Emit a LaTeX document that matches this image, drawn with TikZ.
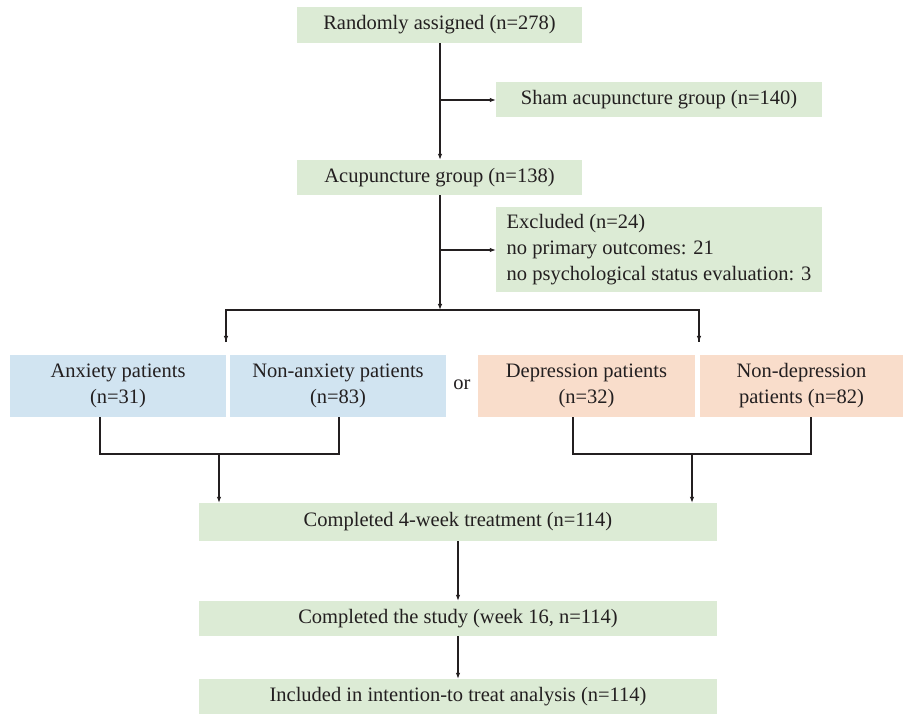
\documentclass[tikz,border=0pt]{standalone}
\usepackage{fontspec}
\setmainfont{Liberation Serif}
\usetikzlibrary{arrows.meta}
\definecolor{boxgreen}{HTML}{DCEBD5}
\definecolor{boxblue}{HTML}{D1E4F1}
\definecolor{boxpeach}{HTML}{F9DDCB}
\definecolor{ink}{HTML}{231F20}
\tikzset{
  fbox/.style={fill=#1, draw=none, inner sep=0pt, text=ink, align=center,
    font=\fontsize{20.5}{26}\selectfont},
  conn/.style={draw=ink, line width=1.1pt},
  arr/.style={conn, -{Latex[length=6pt,width=4.5pt]}}
}
\begin{document}
\begin{tikzpicture}[x=1pt,y=-1pt]
\useasboundingbox (0,0) rectangle (903,714);
\fill[white] (0,0) rectangle (903,714);
% boxes
\node[fbox=boxgreen, minimum width=285pt, minimum height=36pt] (r) at (439.5,25) {Randomly assigned (n=278)};
\node[fbox=boxgreen, minimum width=326pt, minimum height=35pt] (sham) at (659,99.5) {Sham acupuncture group (n=140)};
\node[fbox=boxgreen, minimum width=285pt, minimum height=35pt] (acu) at (439.5,177.5) {Acupuncture group (n=138)};
\node[fbox=boxgreen, minimum width=326pt, minimum height=85pt, align=left] (excl) at (659,249.5) {Excluded (n=24)\\no primary outcomes: 21\\no psychological status evaluation: 3};
\node[fbox=boxblue, minimum width=216pt, minimum height=62pt] (anx) at (118,386) {Anxiety patients\\(n=31)};
\node[fbox=boxblue, minimum width=216pt, minimum height=62pt] (nanx) at (338,386) {Non-anxiety patients\\(n=83)};
\node[text=ink, font=\fontsize{20.5}{26}\selectfont, inner sep=0pt] (or) at (462,385) {or};
\node[fbox=boxpeach, minimum width=217pt, minimum height=62pt] (dep) at (586.5,386) {Depression patients\\(n=32)};
\node[fbox=boxpeach, minimum width=203pt, minimum height=62pt] (ndep) at (801.5,386) {Non-depression\\patients (n=82)};
\node[fbox=boxgreen, minimum width=518pt, minimum height=38pt] (c4) at (458,522) {Completed 4-week treatment (n=114)};
\node[fbox=boxgreen, minimum width=518pt, minimum height=35pt] (cs) at (458,618.5) {Completed the study (week 16, n=114)};
\node[fbox=boxgreen, minimum width=518pt, minimum height=35pt] (itt) at (458,696.5) {Included in intention-to treat analysis (n=114)};
% coordinates
\coordinate (b1) at (440,100);
\coordinate (b2) at (440,250);
\coordinate (split) at (440,310);
\coordinate (sl) at (226,310);
\coordinate (sr) at (699,310);
\coordinate (tl) at (226,342);
\coordinate (tr) at (699,342);
\coordinate (jl) at (219,454);
\coordinate (jr) at (692,454);
% connectors
\draw[arr] (r.south -| b1) -- (acu.north -| b1);
\draw[arr] (b1) -- (sham.west |- b1);
\draw[arr] (acu.south -| split) -- (split);
\draw[arr] (b2) -- (excl.west |- b2);
\draw[conn] (tl) -- (sl) -- (sr) -- (tr);
\draw[arr] (sl) -- (tl);
\draw[arr] (sr) -- (tr);
\draw[conn] (anx.south -| 100,0) -- (100,454) -- (339,454) -- (nanx.south -| 339,0);
\draw[arr] (jl) -- (c4.north -| jl);
\draw[conn] (dep.south -| 573,0) -- (573,454) -- (811,454) -- (ndep.south -| 811,0);
\draw[arr] (jr) -- (c4.north -| jr);
\draw[arr] (c4.south) -- (cs.north);
\draw[arr] (cs.south) -- (itt.north);
\end{tikzpicture}
\end{document}
